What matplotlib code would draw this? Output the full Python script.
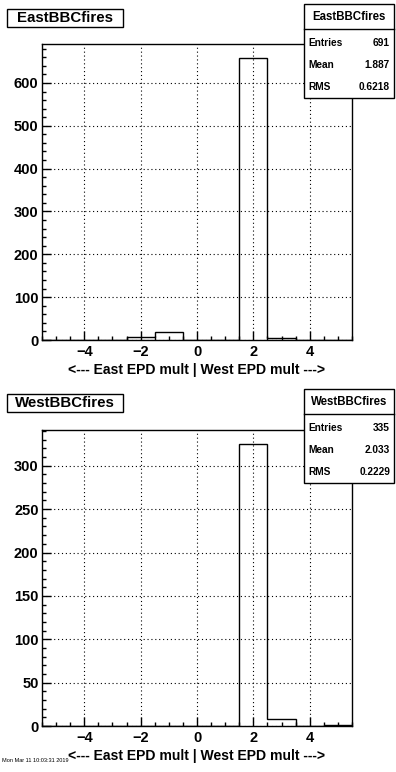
import numpy as np
import matplotlib
matplotlib.use("Agg")
import matplotlib.pyplot as plt
from matplotlib.patches import Rectangle
from matplotlib.ticker import MultipleLocator

plt.rcParams["font.family"] = ["Liberation Sans", "DejaVu Sans"]
plt.rcParams["font.weight"] = "bold"

# bin edges: unit bins centred on -5..5
edges = np.arange(-5.5, 6.0, 1.0)
east_counts = [0, 0, 0, 6, 19, 0, 0, 658, 4, 0, 0]
west_counts = [0, 0, 0, 0, 0, 0, 0, 325, 8, 0, 1]

titles = ["EastBBCfires", "WestBBCfires"]
stats_entries = [691, 335]
stats_mean = ["1.887", "2.033"]
stats_rms = ["0.6218", "0.2229"]
y_major = [100, 50]
y_minor = [20, 10]
xlabel = "<--- East EPD mult | West EPD mult --->"

W, H = 396, 772
fig = plt.figure(figsize=(W / 100, H / 100), dpi=100)


def fx(px):
    return px / W


def fy(py):
    return 1 - py / H


def draw_panel(counts, title, entries, mean, rms, ymaj, ymin, top, off):
    ax = fig.add_axes([fx(42), fy(top + 296), fx(310), 296 / H])
    ax.stairs(counts, edges, color="black", lw=1.0)
    ax.set_xlim(-5.5, 5.5)
    ax.set_ylim(0, max(counts) * 1.05)
    ax.xaxis.set_major_locator(MultipleLocator(2))
    ax.xaxis.set_minor_locator(MultipleLocator(0.5))
    ax.yaxis.set_major_locator(MultipleLocator(ymaj))
    ax.yaxis.set_minor_locator(MultipleLocator(ymin))
    ax.tick_params(which="both", direction="in", labelsize=10.5, width=1)
    ax.tick_params(which="major", length=6.5)
    ax.tick_params(which="minor", length=3.2)
    ax.tick_params(axis="y", pad=2.5)
    ax.grid(True, which="major", ls=(0, (1, 2.5)), color="black", lw=0.8)
    for s in ax.spines.values():
        s.set_linewidth(1.0)
    for lab in ax.get_xticklabels() + ax.get_yticklabels():
        lab.set_fontweight("bold")
    ax.set_xlabel(xlabel, fontsize=10.1, fontweight="bold", labelpad=3)

    # title box
    fig.patches.append(Rectangle((fx(7), fy(off + 27)), fx(116), 18 / H,
                                 transform=fig.transFigure, fill=False,
                                 ec="black", lw=1.0))
    fig.text(fx(65), fy(off + 18), title, ha="center", va="center",
             fontsize=10.8, fontweight="bold")

    # stats box
    fig.patches.append(Rectangle((fx(304), fy(off + 98)), fx(90), 94 / H,
                                 transform=fig.transFigure, fc="white",
                                 ec="black", lw=1.0, zorder=5))
    fig.lines.append(plt.Line2D([fx(304), fx(394)], [fy(off + 29), fy(off + 29)],
                                transform=fig.transFigure, color="black",
                                lw=1.0, zorder=6))
    fig.text(fx(349), fy(off + 17), title, ha="center", va="center",
             fontsize=8.3, fontweight="bold", zorder=7)
    rows = [("Entries", str(entries)), ("Mean", mean), ("RMS", rms)]
    for i, (k, v) in enumerate(rows):
        y = fy(off + 43 + i * 22)
        fig.text(fx(308), y, k, ha="left", va="center", fontsize=7.3,
                 fontweight="bold", zorder=7)
        fig.text(fx(390), y, v, ha="right", va="center", fontsize=7.3,
                 fontweight="bold", zorder=7)
    return ax


draw_panel(east_counts, titles[0], stats_entries[0], stats_mean[0],
           stats_rms[0], y_major[0], y_minor[0], 44, 0)
draw_panel(west_counts, titles[1], stats_entries[1], stats_mean[1],
           stats_rms[1], y_major[1], y_minor[1], 430, 385)

fig.text(fx(2), fy(761), "Mon Mar 11 10:03:31 2019", fontsize=4,
         fontweight="normal", va="center")

fig.savefig("out.png", dpi=100)
